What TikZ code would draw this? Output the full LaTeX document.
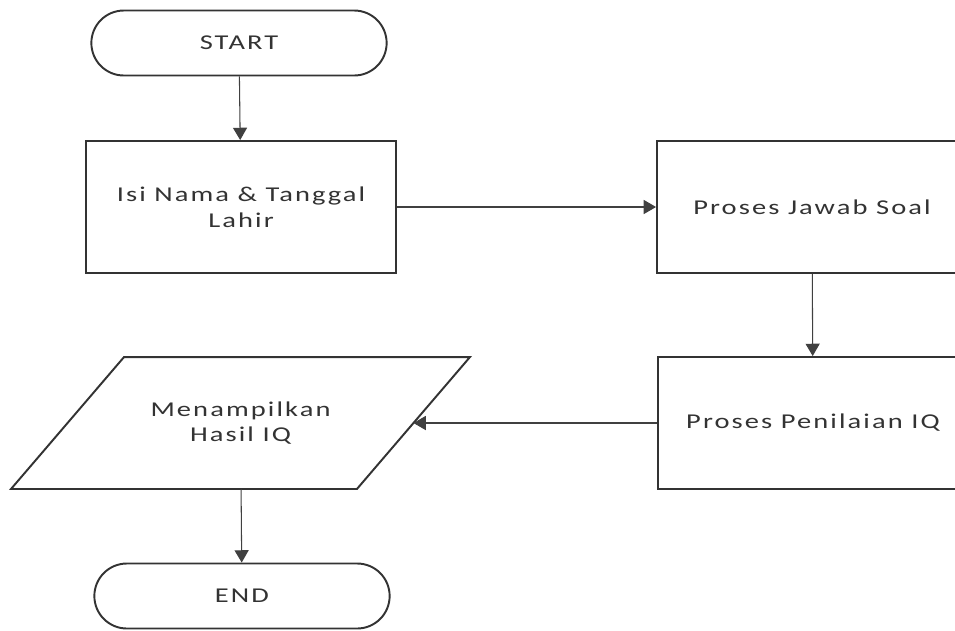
\documentclass[tikz,border=0pt]{standalone}
\usepackage{fontspec}
\setmainfont{Carlito}[FakeStretch=1.35, LetterSpace=10]
\usetikzlibrary{arrows.meta,shapes.misc}

\begin{document}
\begin{tikzpicture}[line width=1.1pt, draw=black!80, font=\fontsize{12}{14.7}\selectfont,
	terminal/.style={rounded rectangle, draw, minimum width=6.14cm, minimum height=1.3cm, text=black!80},
	process/.style={rectangle, draw, minimum width=6.2cm, minimum height=2.64cm, align=center, text=black!80},
	io/.style={rectangle, minimum width=6.88cm, minimum height=2.6cm, align=center, text=black!80},
	flow/.style={-{Triangle[width=8pt,length=7pt]}, line width=0.6pt, draw=black!75}]
	\useasboundingbox (0,0) rectangle (19.1,-12.6);
	% left column
	\node[terminal] (start) at (4.78,-0.86) {START};
	\node[process] (isi) at (4.82,-4.14) {Isi Nama \& Tanggal\\Lahir};
	\node[io] (hasil) at (4.81,-8.46) {Menampilkan\\Hasil IQ};
	\draw ([xshift=1.13cm]hasil.north west) -- ([xshift=1.13cm]hasil.north east)
		-- ([xshift=-1.13cm]hasil.south east) -- ([xshift=-1.13cm]hasil.south west) -- cycle;
	\node[terminal] (end) at (4.84,-11.92) {END};
	% right column
	\node[process] (jawab) at (16.24,-4.14) {Proses Jawab Soal};
	\node[process] (nilai) at (16.26,-8.46) {Proses Penilaian IQ};
	% connectors
	\draw[flow] (start) -- (isi);
	\draw[flow] (isi) -- (jawab);
	\draw[flow] (jawab) -- (nilai);
	\draw[flow] (nilai) -- (hasil);
	\draw[flow] (hasil) -- (end);
\end{tikzpicture}
\end{document}
